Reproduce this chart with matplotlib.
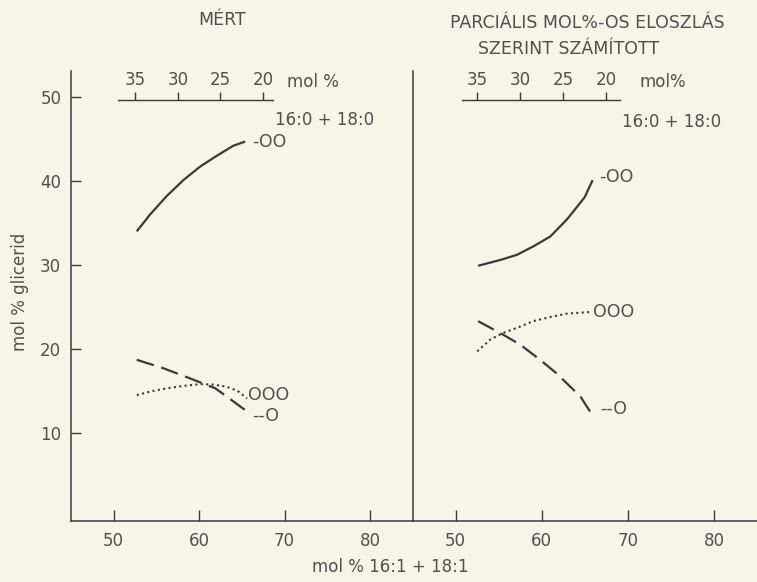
import numpy as np
import matplotlib
matplotlib.use("Agg")
from matplotlib import pyplot as plt

# mol % 16:1 + 18:1 (bottom axis) vs mol % glicerid
# MERT (measured) panel
mert_x_oo = [52.7, 54.25, 56.2, 58.15, 60.1, 62.06, 64.0, 65.4]
mert_y_oo = [34.0, 36.0, 38.2, 40.1, 41.7, 43.0, 44.2, 44.7]
mert_x_ooo = [52.7, 54.4, 56.2, 58.2, 60.1, 61.7, 63.2, 64.5, 65.6]
mert_y_ooo = [14.5, 14.95, 15.3, 15.6, 15.8, 15.75, 15.5, 15.0, 14.1]
mert_x_o = [52.7, 55.8, 58.9, 61.9, 63.8, 65.4]
mert_y_o = [18.7, 17.7, 16.5, 15.3, 13.9, 12.7]

# calculated panel (partial mol %-distribution)
calc_x_oo = [52.6, 55.2, 57.1, 59.0, 61.0, 62.9, 64.0, 65.0, 65.9]
calc_y_oo = [29.9, 30.6, 31.2, 32.2, 33.4, 35.4, 36.8, 38.1, 40.1]
calc_x_ooo = [52.5, 54.0, 55.5, 57.1, 59.0, 61.0, 62.9, 65.8]
calc_y_ooo = [19.7, 21.1, 21.9, 22.5, 23.3, 23.8, 24.2, 24.4]
calc_x_o = [52.6, 55.5, 57.5, 59.8, 61.7, 62.9, 64.5, 65.7]
calc_y_o = [23.3, 21.7, 20.5, 18.7, 17.1, 15.9, 14.3, 12.4]

xticks = [50, 60, 70, 80]
yticks = [10, 20, 30, 40, 50]
top_ticks = [35, 30, 25, 20]
SUM = 87.5   # mol% 16:0+18:0 = SUM - mol% 16:1+18:1

paper = '#f7f4e8'
ink = '#3a3a3a'
txt = '#505050'
plt.rcParams['font.family'] = 'DejaVu Sans'
plt.rcParams['font.size'] = 12

fig = plt.figure(figsize=(7.57, 5.82), dpi=100, facecolor=paper)
W, H = 757, 582
bottom = (H - 521) / H
height = 450 / H
axL = fig.add_axes([71 / W, bottom, (412.7 - 71) / W, height])
axR = fig.add_axes([412.7 / W, bottom, (W - 412.7) / W, height])

styles = {
    'oo': dict(ls='-', lw=1.6),
    'ooo': dict(ls=(0, (1.0, 1.6)), lw=1.5),
    'o': dict(ls=(0, (8, 3.5)), lw=1.6),
}


def panel(ax, series, labels, show_y):
    ax.set_facecolor(paper)
    ax.set_xlim(45, 85)
    ax.set_ylim(-0.5, 53.1)
    for s in ('top', 'right'):
        ax.spines[s].set_visible(False)
    for s in ('left', 'bottom'):
        ax.spines[s].set_color(ink)
        ax.spines[s].set_linewidth(1.1)
    ax.set_xticks(xticks)
    ax.tick_params(axis='x', direction='in', length=8, width=1.0,
                   colors=ink, labelcolor=txt, pad=8, labelsize=12)
    if show_y:
        ax.set_yticks(yticks)
        ax.tick_params(axis='y', direction='in', length=7, width=1.0,
                       colors=ink, labelcolor=txt, pad=7, labelsize=12)
    else:
        ax.set_yticks([])
    for (key, (x, y)), (lab, dx, dy) in zip(series.items(), labels):
        ax.plot(x, y, color=ink, solid_capstyle='butt',
                solid_joinstyle='round', **styles[key])
        ax.annotate(lab, xy=(x[-1], y[-1]), xytext=(dx, dy),
                    textcoords='offset pixels', ha='left', va='center',
                    color=txt, fontsize=12.5)

    sec = ax.secondary_xaxis(0.935, functions=(lambda v: SUM - v,
                                               lambda v: SUM - v))
    sec.set_xticks(top_ticks)
    sec.tick_params(axis='x', direction='out', length=6, width=1.0,
                    colors=ink, labelcolor=txt, pad=2, labelsize=12)
    for sp in sec.spines.values():
        sp.set_color(ink)
        sp.set_linewidth(1.0)
    return sec


secL = panel(axL,
             {'oo': (mert_x_oo, mert_y_oo), 'ooo': (mert_x_ooo, mert_y_ooo),
              'o': (mert_x_o, mert_y_o)},
             [('-OO', 7, 0), ('OOO', 1, 3), ('--O', 7, -6)], True)
secR = panel(axR,
             {'oo': (calc_x_oo, calc_y_oo), 'ooo': (calc_x_ooo, calc_y_ooo),
              'o': (calc_x_o, calc_y_o)},
             [('-OO', 7, 3), ('OOO', 1, 0), ('--O', 9, 4)], False)
for sec, lo, hi in ((secL, 18.85, 37.0), (secR, 18.4, 36.8)):
    for sp in sec.spines.values():
        sp.set_bounds(lo, hi)

# labels of the top scales
axL.text(70.3, 0.976, 'mol %', transform=axL.get_xaxis_transform(),
         ha='left', va='center', color=txt, fontsize=12)
axL.text(68.9, 0.891, '16:0 + 18:0', transform=axL.get_xaxis_transform(),
         ha='left', va='center', color=txt, fontsize=12)
axR.text(71.4, 0.976, 'mol%', transform=axR.get_xaxis_transform(),
         ha='left', va='center', color=txt, fontsize=12)
axR.text(69.3, 0.887, '16:0 + 18:0', transform=axR.get_xaxis_transform(),
         ha='left', va='center', color=txt, fontsize=12)

fig.text(222 / W, 1 - 20 / H, 'MÉRT', ha='center', va='center',
         color=txt, fontsize=12.5)
fig.text(587 / W, 1 - 23 / H, 'PARCIÁLIS MOL%-OS ELOSZLÁS', ha='center',
         va='center', color=txt, fontsize=12.5)
fig.text(569 / W, 1 - 49 / H, 'SZERINT SZÁMÍTOTT', ha='center',
         va='center', color=txt, fontsize=12.5)
fig.text(390 / W, 1 - 567 / H, 'mol % 16:1 + 18:1', ha='center',
         va='center', color=txt, fontsize=12)
fig.text(20 / W, 1 - 292 / H, 'mol % glicerid', ha='center', va='center',
         rotation=90, color=txt, fontsize=12)

fig.savefig('out.png', dpi=100, facecolor=paper)
